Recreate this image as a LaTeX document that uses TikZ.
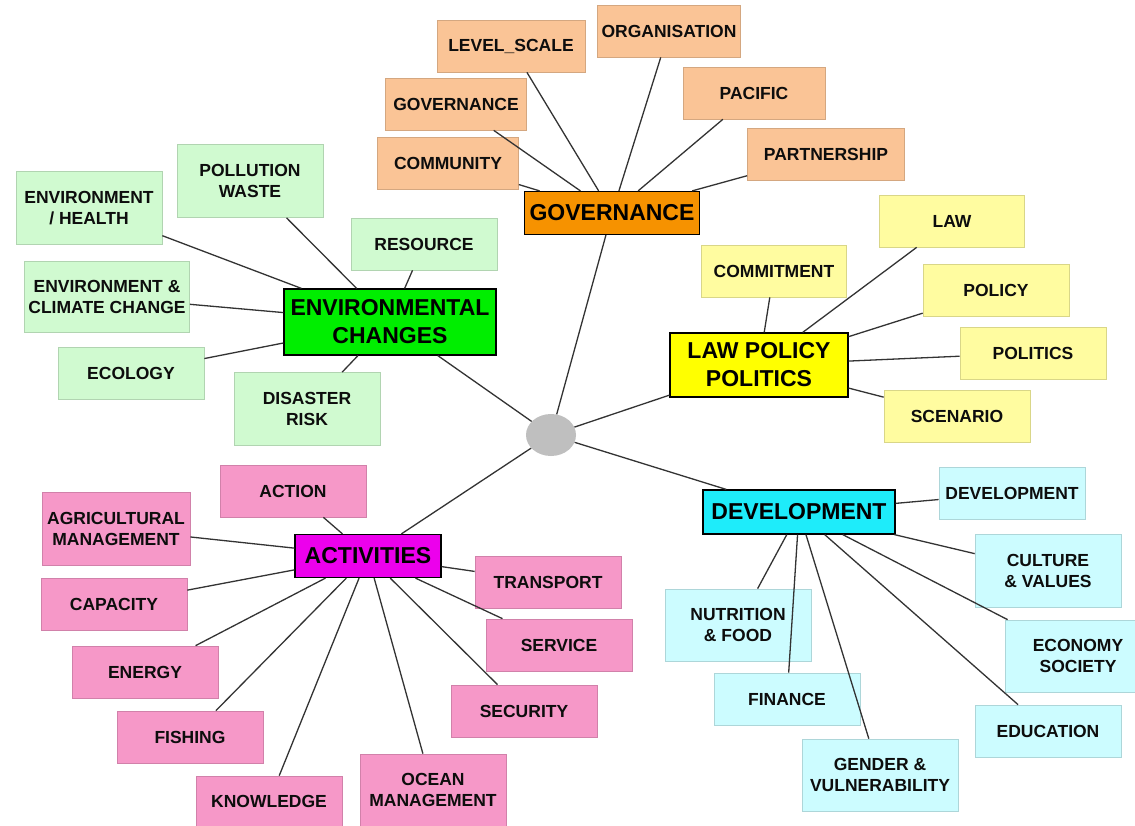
\documentclass[tikz,border=0pt]{standalone}
\usepackage{fontspec}
\setmainfont{Liberation Sans}
\usepackage{tikz}
\usetikzlibrary{shapes.geometric}

\definecolor{govlight}{RGB}{250,196,150}
\definecolor{govdark}{RGB}{246,146,0}
\definecolor{envlight}{RGB}{208,250,208}
\definecolor{envdark}{RGB}{0,238,0}
\definecolor{lawlight}{RGB}{255,252,160}
\definecolor{lawdark}{RGB}{255,255,0}
\definecolor{devlight}{RGB}{204,252,255}
\definecolor{devdark}{RGB}{30,236,250}
\definecolor{actlight}{RGB}{246,152,200}
\definecolor{actdark}{RGB}{236,0,236}

\begin{document}
\begin{tikzpicture}[x=1pt, y=-1pt,
  topic/.style={draw=black, line width=1.2pt, text=black, inner sep=2pt, align=center,
    font=\fontsize{23}{28}\selectfont\bfseries},
  leaf/.style={fill=#1, draw=#1!85!black, line width=0.7pt, text=black!95, inner sep=2pt,
    minimum width=146pt, minimum height=52pt, align=center,
    font=\fontsize{17.5}{21}\selectfont\bfseries},
  leaf/.default=white,
  hub/.style={ellipse, fill=black!25, draw=none, minimum width=50pt, minimum height=42pt},
  link/.style={draw=black!80, line width=1.3pt}]

  \useasboundingbox (0,0) rectangle (1135,826);
  \fill[white] (0,0) rectangle (1135,826);

  % The hub in the middle
  \node[hub] (hub) at (551,435) {};

  % Five main topics
  \node[topic, fill=govdark, minimum width=175pt, minimum height=43pt] (gov) at (612,213) {GOVERNANCE};
  \node[topic, fill=envdark, minimum width=212pt, minimum height=66pt] (env) at (390,322) {ENVIRONMENTAL\\CHANGES};
  \node[topic, fill=lawdark, minimum width=178pt, minimum height=64pt] (law) at (759,365) {LAW POLICY\\POLITICS};
  \node[topic, fill=devdark, minimum width=192pt, minimum height=44pt] (dev) at (799,512) {DEVELOPMENT};
  \node[topic, fill=actdark, minimum width=146pt, minimum height=43pt] (act) at (368,556) {ACTIVITIES};

  % Governance leaves
  \node[leaf=govlight, minimum width=148pt] (gLevel) at (511,46) {LEVEL\_SCALE};
  \node[leaf=govlight, minimum width=143pt] (gOrg) at (669,31) {ORGANISATION};
  \node[leaf=govlight, minimum width=141pt] (gGov) at (456,104) {GOVERNANCE};
  \node[leaf=govlight, minimum width=141pt] (gComm) at (448,163) {COMMUNITY};
  \node[leaf=govlight, minimum width=142pt] (gPac) at (754,93) {PACIFIC};
  \node[leaf=govlight, minimum width=157pt] (gPart) at (826,154) {PARTNERSHIP};

  % Environmental leaves
  \node[leaf=envlight, minimum height=73pt] (eHealth) at (89,208) {ENVIRONMENT\\/ HEALTH};
  \node[leaf=envlight, minimum height=73pt] (ePoll) at (250,181) {POLLUTION\\WASTE};
  \node[leaf=envlight] (eRes) at (424,244) {RESOURCE};
  \node[leaf=envlight, minimum width=165pt, minimum height=71pt] (eClim) at (107,297) {ENVIRONMENT \&\\CLIMATE CHANGE};
  \node[leaf=envlight] (eEco) at (131,373) {ECOLOGY};
  \node[leaf=envlight, minimum height=73pt] (eDis) at (307,409) {DISASTER\\RISK};

  % Law leaves
  \node[leaf=lawlight, minimum width=145pt] (lLaw) at (952,221) {LAW};
  \node[leaf=lawlight, minimum width=145pt] (lComm) at (774,271) {COMMITMENT};
  \node[leaf=lawlight] (lPol) at (996,290) {POLICY};
  \node[leaf=lawlight] (lPolit) at (1033,353) {POLITICS};
  \node[leaf=lawlight] (lScen) at (957,416) {SCENARIO};

  % Development leaves
  \node[leaf=devlight] (dDev) at (1012,493) {DEVELOPMENT};
  \node[leaf=devlight, minimum height=73pt] (dCult) at (1048,571) {CULTURE\\\& VALUES};
  \node[leaf=devlight, minimum height=72pt] (dNutr) at (738,625) {NUTRITION\\\& FOOD};
  \node[leaf=devlight, minimum height=72pt] (dEcon) at (1078,656) {ECONOMY\\SOCIETY};
  \node[leaf=devlight] (dFin) at (787,699) {FINANCE};
  \node[leaf=devlight] (dEdu) at (1048,731) {EDUCATION};
  \node[leaf=devlight, minimum width=156pt, minimum height=72pt] (dGend) at (880,775) {GENDER \&\\VULNERABILITY};

  % Activities leaves
  \node[leaf=actlight] (aAct) at (293,491) {ACTION};
  \node[leaf=actlight, minimum width=148pt, minimum height=73pt] (aAgri) at (116,529) {AGRICULTURAL\\MANAGEMENT};
  \node[leaf=actlight] (aCap) at (114,604) {CAPACITY};
  \node[leaf=actlight] (aTrans) at (548,582) {TRANSPORT};
  \node[leaf=actlight] (aServ) at (559,645) {SERVICE};
  \node[leaf=actlight] (aEner) at (145,672) {ENERGY};
  \node[leaf=actlight] (aSec) at (524,711) {SECURITY};
  \node[leaf=actlight] (aFish) at (190,737) {FISHING};
  \node[leaf=actlight, minimum height=72pt] (aOcean) at (433,790) {OCEAN\\MANAGEMENT};
  \node[leaf=actlight, minimum height=50pt] (aKnow) at (269,801) {KNOWLEDGE};

  % Hub to the main topics
  \draw[link] (hub) -- (gov) (hub) -- (env) (hub) -- (law) (hub) -- (dev) (hub) -- (act);

  % Topics to their leaves
  \draw[link] (gov) -- (gLevel) (gov) -- (gOrg) (gov) -- (gGov) (gov) -- (gComm) (gov) -- (gPac) (gov) -- (gPart);
  \draw[link] (env) -- (eHealth) (env) -- (ePoll) (env) -- (eRes) (env) -- (eClim) (env) -- (eEco) (env) -- (eDis);
  \draw[link] (law) -- (lLaw) (law) -- (lComm) (law) -- (lPol) (law) -- (lPolit) (law) -- (lScen);
  \draw[link] (dev) -- (dDev) (dev) -- (dCult) (dev) -- (dNutr) (dev) -- (dEcon) (dev) -- (dFin) (dev) -- (dEdu) (dev) -- (dGend);
  \draw[link] (act) -- (aAct) (act) -- (aAgri) (act) -- (aCap) (act) -- (aTrans) (act) -- (aServ) (act) -- (aEner)
    (act) -- (aSec) (act) -- (aFish) (act) -- (aOcean) (act) -- (aKnow);

\end{tikzpicture}
\end{document}
